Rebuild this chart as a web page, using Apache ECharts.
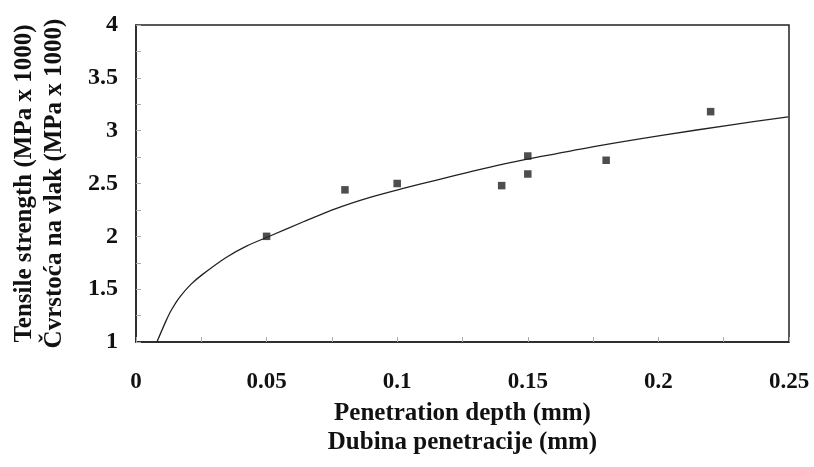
<!DOCTYPE html>
<html>
<head>
<meta charset="utf-8">
<script src="https://cdn.jsdelivr.net/npm/echarts@6/dist/echarts.min.js"></script>
<style>
html,body{margin:0;padding:0;background:#fff;}
#chart{width:814px;height:467px;}
</style>
</head>
<body>
<div id="chart"></div>
<script>
// Measured data points (penetration depth mm, tensile strength MPa x 1000)
var depth = [0.05, 0.08, 0.10, 0.14, 0.15, 0.15, 0.18, 0.22];
var strength = [2.00, 2.44, 2.50, 2.48, 2.76, 2.59, 2.72, 3.18];

// Fitted curve, points
var curveX = [0.008, 0.0115, 0.0135, 0.0166, 0.021, 0.0255, 0.0345, 0.0421, 0.0513, 0.0641, 0.0768, 0.0896, 0.1023, 0.1151, 0.1279, 0.1406, 0.1534, 0.1764, 0.2019, 0.2274, 0.2497];
var curveY = [1.00, 1.20, 1.30, 1.42, 1.545, 1.64, 1.80, 1.905, 2.003, 2.138, 2.265, 2.369, 2.454, 2.533, 2.611, 2.684, 2.747, 2.854, 2.958, 3.053, 3.131];

var xTicks = [0, 0.05, 0.1, 0.15, 0.2, 0.25];
var yTicks = [1, 1.5, 2, 2.5, 3, 3.5, 4];

var xName = 'Penetration depth (mm)\nDubina penetracije (mm)';
var yName = 'Tensile strength (MPa x 1000)\nČvrstoća na vlak (MPa x 1000)';

var points = depth.map(function (d, i) { return [d, strength[i]]; });
var curve = curveX.map(function (d, i) { return [d, curveY[i]]; });

var font = 'Liberation Serif';
var chart = echarts.init(document.getElementById('chart'));
chart.setOption({
  backgroundColor: '#ffffff',
  animation: false,
  grid: {
    left: 136, right: 25, top: 25, bottom: 125,
    containLabel: false, outerBoundsMode: 'none',
    show: true, borderColor: '#222', borderWidth: 1.5, backgroundColor: 'transparent'
  },
  xAxis: {
    type: 'value',
    min: xTicks[0], max: xTicks[xTicks.length - 1], interval: 0.05,
    name: xName,
    nameLocation: 'middle',
    nameGap: 52,
    nameTextStyle: { fontFamily: font, fontWeight: 'bold', fontSize: 25, color: '#111', lineHeight: 29 },
    axisLine: { show: true, lineStyle: { color: '#222', width: 1.5 } },
    axisTick: { show: true, inside: true, length: 5, lineStyle: { color: '#aaa' } },
    minorTick: { show: true, splitNumber: 2, length: 5, lineStyle: { color: '#aaa' } },
    splitLine: { show: false },
    axisLabel: {
      margin: 29, fontFamily: font, fontWeight: 'bold', fontSize: 23, color: '#111',
      formatter: function (v) { return String(+v.toFixed(2)); }
    }
  },
  yAxis: {
    type: 'value',
    min: yTicks[0], max: yTicks[yTicks.length - 1], interval: 0.5,
    name: yName,
    nameLocation: 'middle',
    nameGap: 66,
    nameRotate: 90,
    nameTextStyle: { fontFamily: font, fontWeight: 'bold', fontSize: 25, color: '#111', lineHeight: 30 },
    axisLine: { show: true, lineStyle: { color: '#222', width: 1.5 } },
    axisTick: { show: true, inside: true, length: 5, lineStyle: { color: '#aaa' } },
    minorTick: { show: true, splitNumber: 2, length: 5, lineStyle: { color: '#aaa' } },
    splitLine: { show: false },
    axisLabel: {
      margin: 18, fontFamily: font, fontWeight: 'bold', fontSize: 24, color: '#111',
      padding: [9, 0, 0, 0],
      formatter: function (v) { return String(+v.toFixed(2)); }
    }
  },
  series: [
    {
      type: 'line',
      data: curve,
      smooth: 0.3,
      showSymbol: false,
      lineStyle: { color: '#222', width: 1.3 },
      z: 2
    },
    {
      type: 'scatter',
      data: points,
      symbol: 'rect',
      symbolSize: 7.5,
      itemStyle: { color: '#222' },
      z: 3
    }
  ]
});
</script>
</body>
</html>
